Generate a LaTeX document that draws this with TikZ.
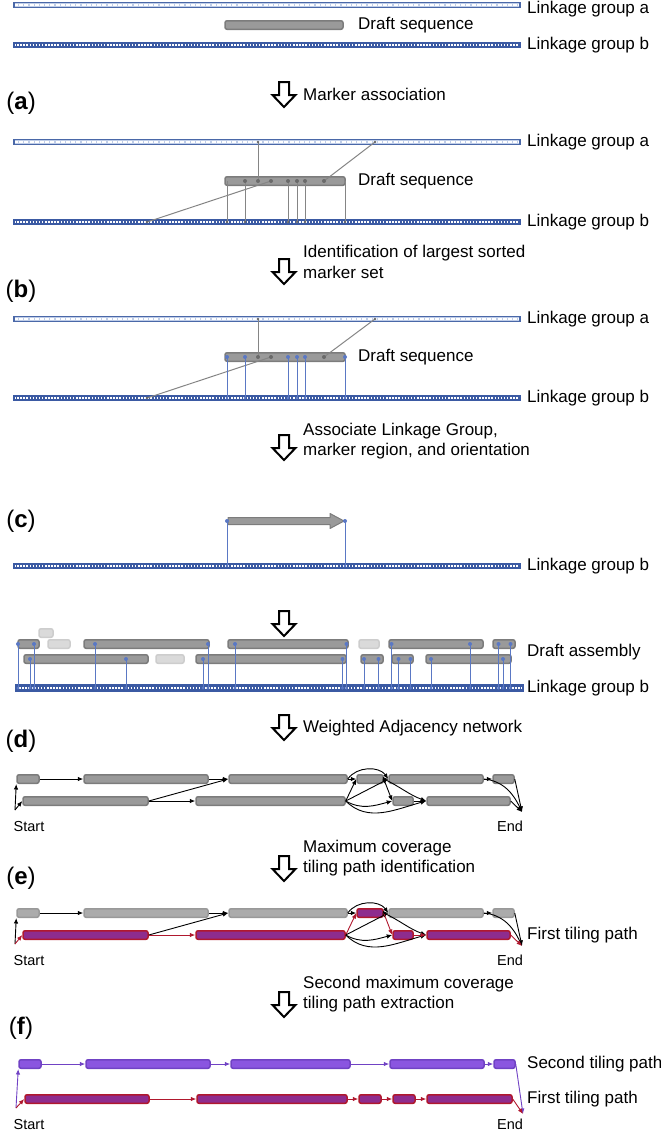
\documentclass[tikz,border=0pt]{standalone}
\usepackage{fontspec}
\setmainfont{Liberation Sans}
\usetikzlibrary{arrows.meta}

\definecolor{lgblue}{HTML}{4A68A8}
\definecolor{lgpale}{HTML}{BFCDE8}
\definecolor{lgdark}{HTML}{3B5AA3}
\definecolor{mkblue}{HTML}{5A78C4}
\definecolor{boxfill}{HTML}{9A9A9A}
\definecolor{boxline}{HTML}{7C7C7C}
\definecolor{ghostfill}{HTML}{DADADA}
\definecolor{ghostline}{HTML}{CDCDCD}
\definecolor{lightfill}{HTML}{ABABAB}
\definecolor{lightline}{HTML}{999999}
\definecolor{pathred}{HTML}{B0182E}
\definecolor{pathfill}{HTML}{8E2C8E}
\definecolor{violetfill}{HTML}{8A55E0}
\definecolor{violetline}{HTML}{7042C4}
\definecolor{markgray}{HTML}{858585}

% block from x1 to x2 at height y
\newcommand\blk[5]{\node[#1, minimum width={#4-#3}] (#2) at ({(#3+#4)/2},#5) {};}

\tikzset{flowarrow/.pic={
  \draw[line width=2pt, fill=white, line join=miter]
    (-5,0) -- (5,0) -- (5,13) -- (11.5,13) -- (0,25) -- (-11.5,13) -- (-5,13) -- cycle;}}

\begin{document}
\begin{tikzpicture}[x=1pt,y=-1pt,
  lab/.style={font=\fontsize{17}{20.5}\selectfont, anchor=west, inner sep=0pt, align=left},
  tag/.style={font=\fontsize{24}{28}\selectfont, inner sep=0pt},
  small/.style={font=\fontsize{14.5}{17}\selectfont, inner sep=0pt},
  lgA/.style={rectangle, draw=lgblue, fill=lgpale, line width=1.2pt, minimum height=5pt, inner sep=0pt,
    path picture={\draw[white, line width=1.8pt, dash pattern=on 4pt off 1.2pt]
      (path picture bounding box.west) -- (path picture bounding box.east);}},
  lgB/.style={rectangle, draw=lgdark, fill=lgdark, line width=1.2pt, minimum height=5pt, inner sep=0pt,
    path picture={\draw[white, line width=1.6pt, dash pattern=on 1.5pt off 1.6pt]
      (path picture bounding box.west) -- (path picture bounding box.east);}},
  dbox/.style={rectangle, rounded corners=2pt, draw=boxline, fill=boxfill, line width=1.5pt, minimum height=8.5pt, inner sep=0pt},
  ghost/.style={dbox, draw=ghostline, fill=ghostfill},
  lbox/.style={dbox, draw=lightline, fill=lightfill},
  fbox/.style={dbox, draw=pathred, fill=pathfill},
  sbox/.style={dbox, draw=violetline, fill=violetfill},
  gmark/.style={markgray, line width=1pt},
  bmark/.style={mkblue, line width=1pt},
  net/.style={-{Latex[length=5.5pt,width=4.5pt]}, line width=0.9pt, black},
  redge/.style={net, pathred},
  vedge/.style={net, violetline}]
\useasboundingbox (0,0) rectangle (661,1133);

% start
\node[lgA, minimum width=506] (la0) at (267,5) {};
\node[lab] (la0t) at (527,9) {Linkage group a};
\blk{dbox}{ds0}{225}{343}{25}
\node[lab] (ds0t) at (358,25) {Draft sequence};
\node[lgB, minimum width=506] (lb0) at (267,45) {};
\node[lab] (lb0t) at (527,45) {Linkage group b};

\pic at (284,82) {flowarrow};
\node[lab] (st1) at (303,94) {Marker association};
\node[tag] (ta) at (21,103) {(\textbf{a})};

% (a) all markers
\node[lgA, minimum width=506] (la1) at (267,142) {};
\node[lab] (la1t) at (527,142) {Linkage group a};
\node[lgB, minimum width=506] (lb1) at (267,222) {};
\node[lab] (lb1t) at (527,222) {Linkage group b};
\blk{dbox}{ds1}{225}{345}{181}
\node[lab] (ds1t) at (358,181) {Draft sequence};
\coordinate (a1p) at (258,142);
\coordinate (a1q) at (375,142);
\coordinate (b1p) at (147,222);
\draw[gmark] (a1p) -- (258,181);
\draw[gmark] (a1q) -- (324,181);
\draw[gmark] (b1p) -- (271,181);
\foreach \x in {227,245,288,297,305,345} {
  \coordinate (u) at (\x,181);
  \coordinate (v) at (\x,222);
  \draw[gmark] (u) -- (v);
  \fill[markgray!80!black] (v) circle (1.4pt);
}
\foreach \x in {245,258,271,288,297,305,324}
  \fill[markgray!80!black] (\x,181) circle (2pt);
\fill[markgray!80!black] (a1p) circle (1.4pt) (a1q) circle (1.4pt) (b1p) circle (1.4pt);

\pic at (284,259) {flowarrow};
\node[lab] (st2) at (303,262) {Identification of largest sorted\\marker set};
\node[tag] (tb) at (21,291) {(\textbf{b})};

% (b) sorted marker set
\node[lgA, minimum width=506] (la2) at (267,319) {};
\node[lab] (la2t) at (527,319) {Linkage group a};
\node[lgB, minimum width=506] (lb2) at (267,398) {};
\node[lab] (lb2t) at (527,398) {Linkage group b};
\blk{dbox}{ds2}{225}{345}{357}
\node[lab] (ds2t) at (358,357) {Draft sequence};
\coordinate (a2p) at (258,319);
\coordinate (a2q) at (375,319);
\coordinate (b2p) at (147,398);
\draw[gmark] (a2p) -- (258,357);
\draw[gmark] (a2q) -- (324,357);
\draw[gmark] (b2p) -- (271,357);
\foreach \x in {227,245,288,297,305,345} {
  \coordinate (u) at (\x,357);
  \coordinate (v) at (\x,398);
  \draw[bmark] (u) -- (v);
  \fill[mkblue] (u) circle (2pt);
  \fill[mkblue] (v) circle (1.4pt);
}
\foreach \x in {258,271,324}
  \fill[markgray!80!black] (\x,357) circle (2pt);
\fill[markgray!80!black] (a2p) circle (1.4pt) (a2q) circle (1.4pt) (b2p) circle (1.4pt);

\pic at (284,435) {flowarrow};
\node[lab] (st3) at (303,441) {Associate Linkage Group,\\marker region, and orientation};
\node[tag] (tc) at (21,521) {(\textbf{c})};

% (c) oriented draft sequence
\node[lgB, minimum width=506] (lb3) at (267,566) {};
\node[lab] (lb3t) at (527,566) {Linkage group b};
\coordinate (c1) at (227,521);
\coordinate (c2) at (345,521);
\coordinate (c1b) at (227,566);
\coordinate (c2b) at (345,566);
\filldraw[draw=boxline, fill=boxfill, line width=1pt, line join=round]
  (228,517.5) -- (330,517.5) -- (330,513.5) -- (344,521) -- (330,528.5) -- (330,524.5) -- (228,524.5) -- cycle;
\draw[bmark] (c1) -- (c1b);
\draw[bmark] (c2) -- (c2b);
\fill[mkblue] (c1) circle (2pt) (c2) circle (2pt) (c1b) circle (1.4pt) (c2b) circle (1.4pt);

\pic at (284,611) {flowarrow};

% draft assembly
\blk{ghost}{g1}{39}{53}{633}
\blk{ghost}{g2}{48}{70}{644}
\blk{ghost}{g3}{156}{184}{659}
\blk{ghost}{g4}{359}{379}{644}
\blk{dbox}{r1a}{18}{39}{644}
\blk{dbox}{r1b}{84}{209}{644}
\blk{dbox}{r1c}{228}{348}{644}
\blk{dbox}{r1d}{389}{483}{644}
\blk{dbox}{r1e}{493}{515}{644}
\blk{dbox}{r2a}{24}{148}{659}
\blk{dbox}{r2b}{196}{346}{659}
\blk{dbox}{r2c}{361}{383}{659}
\blk{dbox}{r2d}{392}{413}{659}
\blk{dbox}{r2e}{426}{511}{659}
\node[lgB, minimum width=507, minimum height=6.5pt] (lb4) at (269.5,688) {};
\node[lab] (dat) at (527,652) {Draft assembly};
\node[lab] (lb4t) at (527,688) {Linkage group b};
\foreach \x/\y in {18/644,30/659,34/644,95/644,126/659,203/659,208/644,235/644,
    342.5/659,346.5/644,364/659,378.5/659,391.5/644,398.5/659,410.5/659,431/659,
    470/644,498.5/644,503/659,510.5/644} {
  \coordinate (u) at (\x,\y);
  \coordinate (v) at (\x,688);
  \draw[bmark] (u) -- (v);
  \fill[mkblue] (u) circle (2pt);
  \fill[mkblue] (v) circle (1.6pt);
}

\pic at (284,715) {flowarrow};
\node[lab] (st4) at (303,728) {Weighted Adjacency network};
\node[tag] (td) at (21,741) {(\textbf{d})};

% (d) adjacency network
\blk{dbox}{dA1}{17}{39}{779}
\blk{dbox}{dA2}{84}{208}{779}
\blk{dbox}{dA3}{229}{347}{779}
\blk{dbox}{dA4}{357}{383}{779}
\blk{dbox}{dA5}{389}{483}{779}
\blk{dbox}{dA6}{493}{514}{779}
\blk{dbox}{dB1}{23}{148}{801}
\blk{dbox}{dB2}{196}{345}{801}
\blk{dbox}{dB3}{393}{413}{801}
\blk{dbox}{dB4}{427}{510}{801}
\coordinate (dS) at (15,810);
\coordinate (dE) at (522,812);
\node[small] (dSt) at (29,826) {Start};
\node[small] (dEt) at (510,826) {End};
\draw[net] (dS) -- (dA1.south west);
\draw[net] (dS) -- (dB1.west);
\draw[net] (dA1.east) -- (dA2.west);
\draw[net] (dA2.east) -- (dA3.west);
\draw[net] (dB1.east) -- (dA3.west);
\draw[net] (dB1.east) -- (dB2.west);
\draw[net] (dA3.east) -- (dA4.west);
\draw[net] (dA3.east) to[out=55,in=125] (dA5.west);
\draw[net] (dB2.east) -- (dA4.west);
\draw[net] (dB2.east) -- (dA5.west);
\draw[net] (dA4.east) -- (dA5.west);
\draw[net] (dA4.east) -- (dB3.west);
\draw[net] (dA4.east) to[out=-25,in=160] (dB4.west);
\draw[net] (dB2.east) to[out=-30,in=195] (dB3.west);
\draw[net] (dB2.east) to[out=-45,in=195] (dB4.west);
\draw[net] (dB3.east) -- (dB4.west);
\draw[net] (dA5.east) -- (dA6.west);
\draw[net] (dA5.east) to[out=-5,in=115] (dE);
\draw[net] (dA6.east) -- (dE);
\draw[net] (dB4.east) -- (dE);

\pic at (284,856) {flowarrow};
\node[lab] (st5) at (303,858) {Maximum coverage\\tiling path identification};
\node[tag] (te) at (21,878) {(\textbf{e})};

% (e) first tiling path
\blk{lbox}{eA1}{17}{39}{913}
\blk{lbox}{eA2}{84}{208}{913}
\blk{lbox}{eA3}{229}{347}{913}
\blk{fbox}{eA4}{357}{383}{913}
\blk{lbox}{eA5}{389}{483}{913}
\blk{lbox}{eA6}{493}{514}{913}
\blk{fbox}{eB1}{23}{148}{935}
\blk{fbox}{eB2}{196}{345}{935}
\blk{fbox}{eB3}{393}{413}{935}
\blk{fbox}{eB4}{427}{510}{935}
\coordinate (eS) at (15,944);
\coordinate (eE) at (522,946);
\node[small] (eSt) at (29,960) {Start};
\node[small] (eEt) at (510,960) {End};
\node[lab] (eft) at (527,935) {First tiling path};
\draw[net] (eS) -- (eA1.south west);
\draw[redge] (eS) -- (eB1.west);
\draw[net] (eA1.east) -- (eA2.west);
\draw[net] (eA2.east) -- (eA3.west);
\draw[net] (eB1.east) -- (eA3.west);
\draw[redge] (eB1.east) -- (eB2.west);
\draw[net] (eA3.east) -- (eA4.west);
\draw[net] (eA3.east) to[out=55,in=125] (eA5.west);
\draw[redge] (eB2.east) -- (eA4.west);
\draw[net] (eB2.east) -- (eA5.west);
\draw[net] (eA4.east) -- (eA5.west);
\draw[redge] (eA4.east) -- (eB3.west);
\draw[net] (eA4.east) to[out=-25,in=160] (eB4.west);
\draw[net] (eB2.east) to[out=-30,in=195] (eB3.west);
\draw[net] (eB2.east) to[out=-45,in=195] (eB4.west);
\draw[redge] (eB3.east) -- (eB4.west);
\draw[net] (eA5.east) -- (eA6.west);
\draw[net] (eA5.east) to[out=-5,in=115] (eE);
\draw[net] (eA6.east) -- (eE);
\draw[redge] (eB4.east) -- (eE);

\pic at (284,992) {flowarrow};
\node[lab] (st6) at (303,994) {Second maximum coverage\\tiling path extraction};
\node[tag] (tf) at (21,1028) {(\textbf{f})};

% (f) two tiling paths
\blk{sbox}{fA1}{19}{41}{1064}
\blk{sbox}{fA2}{86}{210}{1064}
\blk{sbox}{fA3}{231}{350}{1064}
\blk{sbox}{fA5}{390}{484}{1064}
\blk{sbox}{fA6}{494}{515}{1064}
\blk{fbox}{fB1}{25}{149}{1099}
\blk{fbox}{fB2}{197}{347}{1099}
\blk{fbox}{fA4}{359}{381}{1099}
\blk{fbox}{fB3}{393}{415}{1099}
\blk{fbox}{fB4}{427}{512}{1099}
\coordinate (fS) at (16,1108);
\coordinate (fE) at (523,1114);
\node[small] (fSt) at (29,1124) {Start};
\node[small] (fEt) at (510,1124) {End};
\node[lab] (fst) at (527,1064) {Second tiling path};
\node[lab] (fft) at (527,1099) {First tiling path};
\draw[vedge] (fS) -- (fA1.south west);
\draw[vedge] (fA1.east) -- (fA2.west);
\draw[vedge] (fA2.east) -- (fA3.west);
\draw[vedge] (fA3.east) -- (fA5.west);
\draw[vedge] (fA5.east) -- (fA6.west);
\draw[vedge] (fA6.east) -- (fE);
\draw[redge] (fS) -- (fB1.west);
\draw[redge] (fB1.east) -- (fB2.west);
\draw[redge] (fB2.east) -- (fA4.west);
\draw[redge] (fA4.east) -- (fB3.west);
\draw[redge] (fB3.east) -- (fB4.west);
\draw[redge] (fB4.east) -- (fE);
\end{tikzpicture}
\end{document}
